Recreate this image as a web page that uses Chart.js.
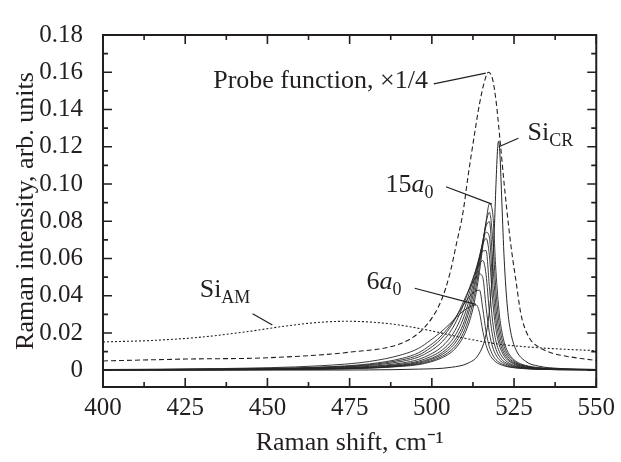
<!DOCTYPE html>
<html>
<head>
<meta charset="utf-8">
<script src="https://cdn.jsdelivr.net/npm/chart.js@4.4.0/dist/chart.umd.min.js"></script>
<style>
  html, body { margin: 0; padding: 0; background: #fff; }
  canvas { display: block; }
</style>
</head>
<body>
<canvas id="raman" width="621" height="462"></canvas>
<script>
var xTicks = [400, 425, 450, 475, 500, 525, 550];
var yTicks = [0, 0.02, 0.04, 0.06, 0.08, 0.10, 0.12, 0.14, 0.16, 0.18];

// probe function (x1/4), dashed
var probeX = [400, 425, 450, 475, 490, 496, 500, 503, 505.5, 507.5, 509.5, 511, 513, 514.5, 516, 517.2, 518.5, 519.5, 520.5, 522, 523.5, 524.5, 525.5, 527, 528, 530, 532, 536, 540, 545, 550];
var probeY = [0.005, 0.006, 0.0067, 0.0097, 0.014, 0.02, 0.028, 0.038, 0.052, 0.068, 0.085, 0.104, 0.127, 0.143, 0.155, 0.16, 0.156, 0.145, 0.128, 0.1, 0.075, 0.061, 0.049, 0.031, 0.024, 0.0164, 0.013, 0.0095, 0.0078, 0.0064, 0.0052];

// crystalline Si
var siCrX = [400, 466, 496, 506, 511, 514, 516, 517, 518, 519, 519.5, 520, 520.3, 520.7, 521.3, 522, 523, 524, 525.5, 528.5, 532.5, 538.5, 550];
var siCrY = [0.00002, 0.0001, 0.0006, 0.0016, 0.0038, 0.0079, 0.0158, 0.0246, 0.0418, 0.0759, 0.0996, 0.1191, 0.123, 0.1162, 0.09, 0.0597, 0.0334, 0.0204, 0.0113, 0.0048, 0.0022, 0.001, 0.0004];

// amorphous Si, dotted
var siAmX = [400, 415, 430, 445, 455, 465, 474, 482, 490, 500, 510, 520, 530, 540, 550];
var siAmY = [0.0152, 0.016, 0.0178, 0.021, 0.0236, 0.0256, 0.0263, 0.0258, 0.0243, 0.0211, 0.0172, 0.0141, 0.0124, 0.0113, 0.0105];

// nanocrystal sizes 6a0 ... 15a0, common x grid
var sizeX = [400, 436, 466, 481, 491, 496, 499.5, 502.5, 505.5, 507.5, 509.5, 511.5, 512.5, 513.5, 514.5, 515.5, 516.5, 517.5, 518.5, 519.5, 520.5, 521.5, 522.5, 523.5, 525.5, 528.5, 532.5, 538.5, 550];
var a6  = [0.0004, 0.0009, 0.0024, 0.0047, 0.0084, 0.0118, 0.016, 0.0201, 0.025, 0.0285, 0.0317, 0.034, 0.0347, 0.035, 0.0309, 0.021, 0.0134, 0.0088, 0.0061, 0.0044, 0.0033, 0.0026, 0.0021, 0.0017, 0.0012, 0.0008, 0.0005, 0.0003, 0.0002];
var a7  = [0.0003, 0.0007, 0.0017, 0.0034, 0.0064, 0.0094, 0.0134, 0.0178, 0.024, 0.0291, 0.0347, 0.0397, 0.0415, 0.0427, 0.043, 0.033, 0.0205, 0.0126, 0.0083, 0.0057, 0.0042, 0.0032, 0.0025, 0.002, 0.0014, 0.0009, 0.0005, 0.0003, 0.0002];
var a8  = [0.0003, 0.0006, 0.0015, 0.003, 0.0056, 0.0082, 0.0119, 0.0163, 0.0228, 0.0289, 0.0363, 0.0441, 0.0475, 0.0502, 0.0517, 0.0498, 0.0337, 0.02, 0.0124, 0.0082, 0.0057, 0.0042, 0.0032, 0.0025, 0.0017, 0.001, 0.0006, 0.0003, 0.0002];
var a9  = [0.0002, 0.0005, 0.0013, 0.0026, 0.0048, 0.0071, 0.0103, 0.0142, 0.0204, 0.0265, 0.0346, 0.0444, 0.0494, 0.0539, 0.0573, 0.0589, 0.0513, 0.0312, 0.0182, 0.0113, 0.0075, 0.0053, 0.004, 0.0031, 0.002, 0.0012, 0.0007, 0.0004, 0.0002];
var a10 = [0.0002, 0.0004, 0.0011, 0.0021, 0.0039, 0.0058, 0.0085, 0.0118, 0.0173, 0.0229, 0.031, 0.0421, 0.0484, 0.0548, 0.0604, 0.064, 0.0642, 0.045, 0.0261, 0.0156, 0.0101, 0.007, 0.0051, 0.0038, 0.0024, 0.0014, 0.0008, 0.0004, 0.0003];
var a11 = [0.0002, 0.0004, 0.0009, 0.0018, 0.0033, 0.0049, 0.0072, 0.01, 0.0148, 0.0199, 0.0275, 0.0387, 0.0458, 0.0536, 0.0614, 0.0676, 0.0708, 0.0617, 0.0375, 0.0218, 0.0136, 0.0091, 0.0064, 0.0048, 0.0029, 0.0016, 0.0009, 0.0005, 0.0003];
var a12 = [0.0001, 0.0003, 0.0008, 0.0015, 0.0029, 0.0043, 0.0062, 0.0087, 0.013, 0.0175, 0.0245, 0.0354, 0.0428, 0.0513, 0.0605, 0.0687, 0.0741, 0.0715, 0.0467, 0.027, 0.0164, 0.0108, 0.0075, 0.0055, 0.0033, 0.0018, 0.001, 0.0005, 0.0003];
var a13 = [0.0001, 0.0003, 0.0007, 0.0014, 0.0026, 0.0038, 0.0056, 0.0078, 0.0116, 0.0157, 0.0222, 0.0327, 0.04, 0.049, 0.0592, 0.0695, 0.0774, 0.0798, 0.0582, 0.0339, 0.0202, 0.0129, 0.0089, 0.0064, 0.0038, 0.0021, 0.0011, 0.0006, 0.0003];
var a14 = [0.0001, 0.0003, 0.0006, 0.0012, 0.0023, 0.0034, 0.0049, 0.0069, 0.0102, 0.0138, 0.0197, 0.0293, 0.0364, 0.0454, 0.0565, 0.0686, 0.0794, 0.0848, 0.071, 0.0425, 0.0249, 0.0156, 0.0105, 0.0075, 0.0043, 0.0023, 0.0012, 0.0006, 0.0004];
var a15 = [0.0001, 0.0002, 0.0006, 0.0011, 0.0021, 0.003, 0.0044, 0.0062, 0.0091, 0.0124, 0.0177, 0.0265, 0.0331, 0.0419, 0.0531, 0.0665, 0.0798, 0.0893, 0.0845, 0.0531, 0.0307, 0.0188, 0.0124, 0.0087, 0.0049, 0.0026, 0.0014, 0.0007, 0.0004];
var sizeLabels = ["6a0", "7a0", "8a0", "9a0", "10a0", "11a0", "12a0", "13a0", "14a0", "15a0"];
var sizeSeries = [a6, a7, a8, a9, a10, a11, a12, a13, a14, a15];

var serif = '"Liberation Serif", "Times New Roman", serif';
var ink = "#231f20";

function pts(xs, ys) {
  return xs.map(function (x, i) { return { x: x, y: ys[i] }; });
}

var datasets = sizeSeries.map(function (ys, i) {
  return {
    label: sizeLabels[i],
    data: pts(sizeX, ys),
    borderColor: "#262626",
    borderWidth: 0.9
  };
});
datasets.push({ label: "SiCR", data: pts(siCrX, siCrY), borderColor: "#262626", borderWidth: 1 });
datasets.push({ label: "Probe", data: pts(probeX, probeY), borderColor: ink, borderWidth: 1.1, borderDash: [5, 3] });
datasets.push({ label: "SiAM", data: pts(siAmX, siAmY), borderColor: ink, borderWidth: 1.1, borderDash: [2, 2] });

// text with subscripts / italics, drawn from a baseline
function rich(ctx, parts, x, y, alignRight) {
  var total = 0;
  parts.forEach(function (p) {
    ctx.font = (p.it ? "italic " : "") + (p.sub ? "18px " : "26px ") + serif;
    p.w = ctx.measureText(p.t).width;
    total += p.w;
  });
  var cx = alignRight ? x - total : x;
  parts.forEach(function (p) {
    ctx.font = (p.it ? "italic " : "") + (p.sub ? "18px " : "26px ") + serif;
    ctx.fillText(p.t, cx, y + (p.sub ? 6 : 0));
    cx += p.w;
  });
}

var frame = {
  id: "frame",
  afterDatasetsDraw: function (chart) {
    var ctx = chart.ctx, a = chart.chartArea;
    var xs = chart.scales.x, ys = chart.scales.y;
    ctx.save();
    ctx.strokeStyle = ink;
    ctx.lineWidth = 2;
    ctx.strokeRect(a.left, a.top, a.right - a.left, a.bottom - a.top);

    ctx.lineWidth = 1.6;
    ctx.beginPath();
    xTicks.forEach(function (v, i) {
      var p = xs.getPixelForValue(v);
      ctx.moveTo(p, a.bottom); ctx.lineTo(p, a.bottom - 9);
      ctx.moveTo(p, a.top); ctx.lineTo(p, a.top + 9);
      if (i < xTicks.length - 1) {
        var m = xs.getPixelForValue(v + 12.5);
        ctx.moveTo(m, a.bottom); ctx.lineTo(m, a.bottom - 5);
        ctx.moveTo(m, a.top); ctx.lineTo(m, a.top + 5);
      }
    });
    yTicks.forEach(function (v, i) {
      var p = ys.getPixelForValue(v);
      ctx.moveTo(a.left, p); ctx.lineTo(a.left + 9, p);
      ctx.moveTo(a.right, p); ctx.lineTo(a.right - 9, p);
      if (i < yTicks.length - 1) {
        var m = ys.getPixelForValue(v + 0.01);
        ctx.moveTo(a.left, m); ctx.lineTo(a.left + 5, m);
        ctx.moveTo(a.right, m); ctx.lineTo(a.right - 5, m);
      }
    });
    ctx.stroke();

    // leaders and labels
    function X(v) { return xs.getPixelForValue(v); }
    function Y(v) { return ys.getPixelForValue(v); }
    ctx.lineWidth = 1.2;
    ctx.beginPath();
    [[500.6, 0.1538, 516.4, 0.1595],
     [526.3, 0.1246, 520.4, 0.1200],
     [504.3, 0.0985, 518.3, 0.0892],
     [494.8, 0.0440, 513.4, 0.0354],
     [445.5, 0.0303, 451.5, 0.0243]].forEach(function (l) {
      ctx.moveTo(X(l[0]), Y(l[1]));
      ctx.lineTo(X(l[2]), Y(l[3]));
    });
    ctx.stroke();

    ctx.fillStyle = ink;
    ctx.textBaseline = "alphabetic";
    ctx.textAlign = "left";
    rich(ctx, [{ t: "Probe function, \u00d71/4" }], X(498.8), Y(0.1513), true);
    rich(ctx, [{ t: "Si" }, { t: "CR", sub: true }], X(529.1), Y(0.1236), false);
    rich(ctx, [{ t: "15" }, { t: "a", it: true }, { t: "0", sub: true }], X(485.9), Y(0.0959), false);
    rich(ctx, [{ t: "6" }, { t: "a", it: true }, { t: "0", sub: true }], X(480.1), Y(0.0436), false);
    rich(ctx, [{ t: "Si" }, { t: "AM", sub: true }], X(429.4), Y(0.0395), false);
    ctx.restore();
  }
};

new Chart(document.getElementById("raman"), {
  type: "line",
  data: { datasets: datasets },
  plugins: [frame],
  options: {
    responsive: false,
    animation: false,
    devicePixelRatio: 1,
    layout: { padding: { top: 17, right: 22, left: 0, bottom: 0 } },
    elements: {
      point: { radius: 0 },
      line: { cubicInterpolationMode: "monotone", fill: false }
    },
    plugins: { legend: { display: false }, tooltip: { enabled: false } },
    scales: {
      x: {
        type: "linear",
        min: 400,
        max: 550,
        grid: { display: false, drawTicks: false },
        border: { display: false },
        afterBuildTicks: function (s) { s.ticks = xTicks.map(function (v) { return { value: v }; }); },
        afterFit: function (s) { s.height = 75; },
        ticks: { padding: 6, color: ink, font: { family: serif, size: 25 }, maxRotation: 0 },
        title: {
          display: true,
          text: "Raman shift, cm\u207b\u00b9",
          color: ink,
          font: { family: serif, size: 26 },
          padding: { top: 0, bottom: 3 }
        }
      },
      y: {
        type: "linear",
        min: -0.009,
        max: 0.18,
        grid: { display: false, drawTicks: false },
        border: { display: false },
        afterBuildTicks: function (s) { s.ticks = yTicks.map(function (v) { return { value: v }; }); },
        afterFit: function (s) { s.width = 103; },
        ticks: {
          padding: 20,
          color: ink,
          font: { family: serif, size: 25 },
          callback: function (v) { return v === 0 ? "0" : v.toFixed(2); }
        },
        title: {
          display: true,
          text: "Raman intensity, arb. units",
          color: ink,
          font: { family: serif, size: 26 },
          padding: { top: 11, bottom: 0 }
        }
      }
    }
  }
});
</script>
</body>
</html>
